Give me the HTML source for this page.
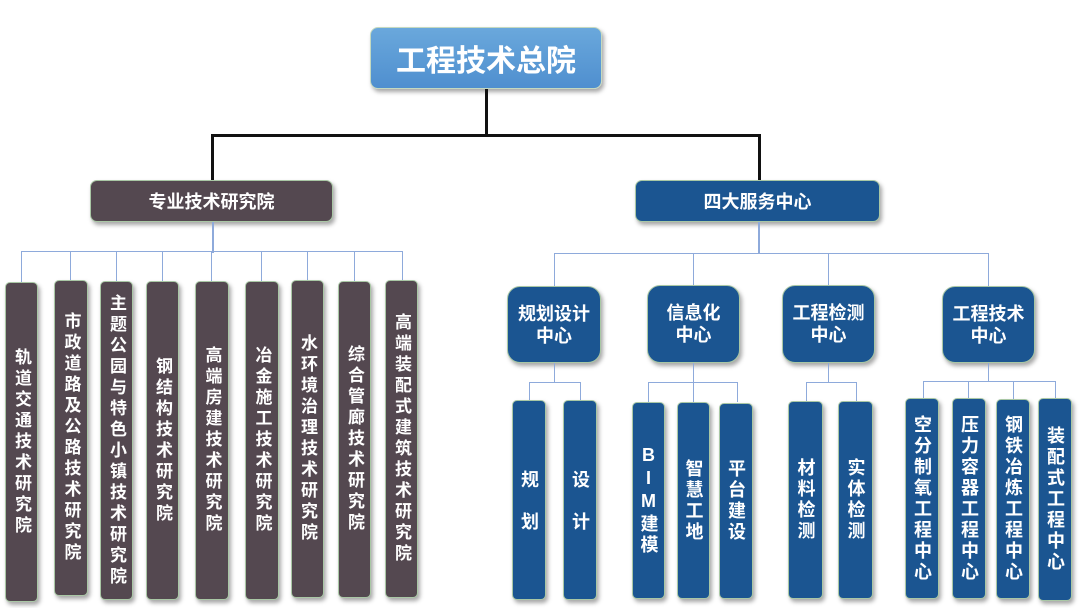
<!DOCTYPE html>
<html><head><meta charset="utf-8"><style>
body{margin:0;width:1080px;height:608px;background:#fff;position:relative;overflow:hidden;font-family:"Liberation Sans","Noto Sans CJK SC",sans-serif;font-weight:bold;color:#fff}
.b{position:absolute;box-sizing:border-box;display:flex;align-items:center;justify-content:center;text-align:center;box-shadow:2px 3px 4px rgba(0,0,0,.35);border:1px solid #a9c7a5}
.v{writing-mode:vertical-rl;text-orientation:upright;font-size:17px;letter-spacing:4px;line-height:1}
.w{font-size:18px;letter-spacing:3px}
.g{background:#544850;border-radius:5px}
.bl{background:#1b5591;border-radius:5px}
.m{font-size:18px;border-radius:13px;line-height:22px}
.l{position:absolute;background:#8eaadb}
.k{position:absolute;background:#111}
</style></head><body>
<div class="b" style="left:370px;top:27px;width:232px;height:62px;background:linear-gradient(#6aa8dc,#4f8fcf);border-radius:8px;font-size:30px;border-color:#c4d9c0">工程技术总院</div>
<div class="k" style="left:485px;top:89px;width:3px;height:47px"></div>
<div class="k" style="left:211px;top:134px;width:550px;height:3px"></div>
<div class="k" style="left:211px;top:134px;width:3px;height:47px"></div>
<div class="k" style="left:758px;top:134px;width:3px;height:47px"></div>
<div class="b g" style="left:90px;top:180px;width:243px;height:42px;font-size:18px;border-radius:7px">专业技术研究院</div>
<div class="b bl" style="left:635px;top:180px;width:245px;height:42px;font-size:18px;border-radius:7px">四大服务中心</div>

<div class="l" style="left:212px;top:222px;width:2px;height:31px"></div>
<div class="l" style="left:21px;top:251px;width:382px;height:1px"></div>
<div class="l" style="left:21px;top:251px;width:1px;height:31px"></div>
<div class="l" style="left:70px;top:251px;width:1px;height:29px"></div>
<div class="l" style="left:116px;top:251px;width:1px;height:30px"></div>
<div class="l" style="left:162px;top:251px;width:1px;height:30px"></div>
<div class="l" style="left:211px;top:251px;width:1px;height:30px"></div>
<div class="l" style="left:261px;top:251px;width:1px;height:30px"></div>
<div class="l" style="left:307px;top:251px;width:1px;height:29px"></div>
<div class="l" style="left:354px;top:251px;width:1px;height:30px"></div>
<div class="l" style="left:402px;top:251px;width:1px;height:29px"></div>

<div class="b g" style="left:5px;top:282px;width:33px;height:320px"><span class="v">轨道交通技术研究院</span></div>
<div class="b g" style="left:54px;top:280px;width:34px;height:316px"><span class="v">市政道路及公路技术研究院</span></div>
<div class="b g" style="left:100px;top:281px;width:33px;height:319px"><span class="v">主题公园与特色小镇技术研究院</span></div>
<div class="b g" style="left:146px;top:281px;width:33px;height:319px"><span class="v">钢结构技术研究院</span></div>
<div class="b g" style="left:195px;top:281px;width:34px;height:319px"><span class="v">高端房建技术研究院</span></div>
<div class="b g" style="left:245px;top:281px;width:34px;height:319px"><span class="v">冶金施工技术研究院</span></div>
<div class="b g" style="left:291px;top:280px;width:33px;height:318px"><span class="v">水环境治理技术研究院</span></div>
<div class="b g" style="left:338px;top:281px;width:33px;height:317px"><span class="v">综合管廊技术研究院</span></div>
<div class="b g" style="left:385px;top:280px;width:33px;height:318px"><span class="v">高端装配式建筑技术研究院</span></div>

<div class="l" style="left:758px;top:222px;width:2px;height:32px"></div>
<div class="l" style="left:554px;top:253px;width:435px;height:1px"></div>
<div class="l" style="left:554px;top:253px;width:1px;height:33px"></div>
<div class="l" style="left:693px;top:253px;width:1px;height:32px"></div>
<div class="l" style="left:828px;top:253px;width:1px;height:32px"></div>
<div class="l" style="left:988px;top:253px;width:1px;height:33px"></div>

<div class="b bl m" style="left:507px;top:286px;width:94px;height:77px">规划设计<br>中心</div>
<div class="b bl m" style="left:647px;top:285px;width:93px;height:78px">信息化<br>中心</div>
<div class="b bl m" style="left:782px;top:285px;width:93px;height:78px">工程检测<br>中心</div>
<div class="b bl m" style="left:942px;top:286px;width:93px;height:77px">工程技术<br>中心</div>

<div class="l" style="left:554px;top:363px;width:1px;height:19px"></div>
<div class="l" style="left:529px;top:382px;width:52px;height:1px"></div>
<div class="l" style="left:529px;top:382px;width:1px;height:19px"></div>
<div class="l" style="left:580px;top:382px;width:1px;height:19px"></div>
<div class="l" style="left:693px;top:363px;width:1px;height:40px"></div>
<div class="l" style="left:648px;top:382px;width:90px;height:1px"></div>
<div class="l" style="left:648px;top:382px;width:1px;height:20px"></div>
<div class="l" style="left:737px;top:382px;width:1px;height:20px"></div>
<div class="l" style="left:828px;top:363px;width:1px;height:19px"></div>
<div class="l" style="left:806px;top:382px;width:51px;height:1px"></div>
<div class="l" style="left:806px;top:382px;width:1px;height:19px"></div>
<div class="l" style="left:856px;top:382px;width:1px;height:19px"></div>
<div class="l" style="left:988px;top:363px;width:1px;height:19px"></div>
<div class="l" style="left:923px;top:381px;width:133px;height:1px"></div>
<div class="l" style="left:923px;top:381px;width:1px;height:18px"></div>
<div class="l" style="left:968px;top:381px;width:1px;height:18px"></div>
<div class="l" style="left:1013px;top:381px;width:1px;height:18px"></div>
<div class="l" style="left:1055px;top:381px;width:1px;height:18px"></div>

<div class="b bl" style="left:512px;top:400px;width:34px;height:200px"><span class="v w" style="letter-spacing:24px;margin-bottom:-24px">规划</span></div>
<div class="b bl" style="left:563px;top:400px;width:34px;height:200px"><span class="v w" style="letter-spacing:24px;margin-bottom:-24px">设计</span></div>
<div class="b bl" style="left:632px;top:402px;width:33px;height:197px"><span class="v w">BIM建模</span></div>
<div class="b bl" style="left:677px;top:402px;width:33px;height:197px"><span class="v w">智慧工地</span></div>
<div class="b bl" style="left:719px;top:403px;width:34px;height:196px"><span class="v w">平台建设</span></div>
<div class="b bl" style="left:788px;top:401px;width:35px;height:198px"><span class="v w">材料检测</span></div>
<div class="b bl" style="left:838px;top:401px;width:35px;height:198px"><span class="v w">实体检测</span></div>
<div class="b bl" style="left:905px;top:398px;width:34px;height:201px"><span class="v w">空分制氧工程中心</span></div>
<div class="b bl" style="left:952px;top:398px;width:34px;height:201px"><span class="v w">压力容器工程中心</span></div>
<div class="b bl" style="left:996px;top:399px;width:34px;height:200px"><span class="v w">钢铁冶炼工程中心</span></div>
<div class="b bl" style="left:1038px;top:398px;width:34px;height:203px"><span class="v w">装配式工程中心</span></div>
</body></html>
